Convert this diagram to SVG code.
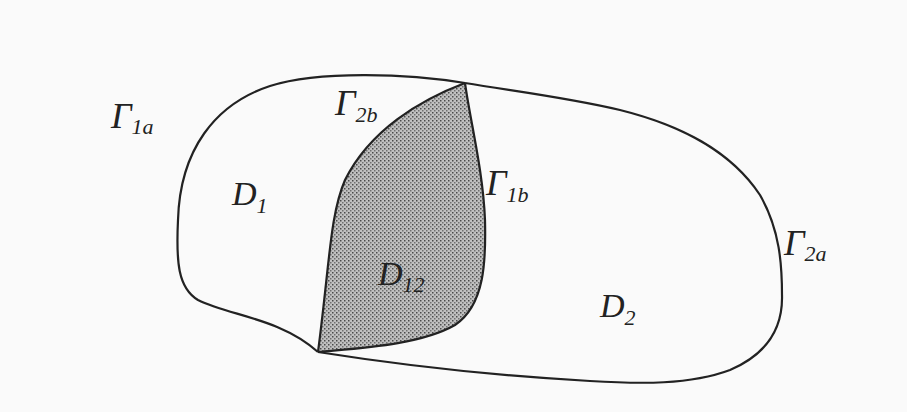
<svg xmlns="http://www.w3.org/2000/svg" width="907" height="412" viewBox="0 0 907 412">
<defs>
<pattern id="stip" width="4" height="4" patternUnits="userSpaceOnUse">
<rect width="4" height="4" fill="#c0c0c0"/>
<rect x="0" y="0" width="1.5" height="1.5" fill="#4a4a4a"/>
<rect x="2" y="2" width="1.5" height="1.5" fill="#707070"/>
</pattern>
<style>
.ln{fill:none;stroke:#222;stroke-width:2.2;stroke-linejoin:round}
.lb{font-family:"Liberation Serif",serif;font-style:italic;fill:#222}
.big{font-size:36px}
.dd{font-size:34px}
.sub{font-size:22px}
</style>
</defs>
<rect width="907" height="412" fill="#fafafa"/>
<g id="D12">
<path d="M465,83 C420,100 370,130 345,180 C330,215 330,260 318,352 C360,348 420,345 455,325 C485,305 486,260 485,220 C483,170 470,120 465,83 Z" fill="url(#stip)" stroke="none"/>
</g>
<g id="connectors">
<path id="G1a" class="ln" d="M465,83 C410,74 320,70 270,86 C215,104 180,150 178,220 C176,262 178,288 198,300 C230,316 280,318 318,352"/>
<path id="G2a" class="ln" d="M465,83 C520,92 570,98 620,110 C680,125 730,150 760,195 C780,230 782,265 782,295 C783,330 765,355 730,370 C690,385 640,384 590,381 C500,376 400,365 318,352"/>
<path id="G2b" class="ln" d="M465,83 C420,100 370,130 345,180 C330,215 330,260 318,352"/>
<path id="G1b" class="ln" d="M465,83 C470,120 483,170 485,220 C486,260 485,305 455,325 C420,345 360,348 318,352"/>
</g>
<g id="labels">
<text class="lb" x="111" y="128"><tspan class="big">Γ</tspan><tspan class="sub" dy="6">1a</tspan></text>
<text class="lb" x="335" y="115"><tspan class="big">Γ</tspan><tspan class="sub" dy="7">2b</tspan></text>
<text class="lb" x="486" y="195"><tspan class="big">Γ</tspan><tspan class="sub" dy="7">1b</tspan></text>
<text class="lb" x="784" y="255"><tspan class="big">Γ</tspan><tspan class="sub" dy="6">2a</tspan></text>
<text class="lb" x="232" y="205"><tspan class="dd">D</tspan><tspan class="sub" dy="8">1</tspan></text>
<text class="lb" x="378" y="285"><tspan class="dd">D</tspan><tspan class="sub" dy="7">12</tspan></text>
<text class="lb" x="600" y="317"><tspan class="dd">D</tspan><tspan class="sub" dy="8">2</tspan></text>
</g>
</svg>
